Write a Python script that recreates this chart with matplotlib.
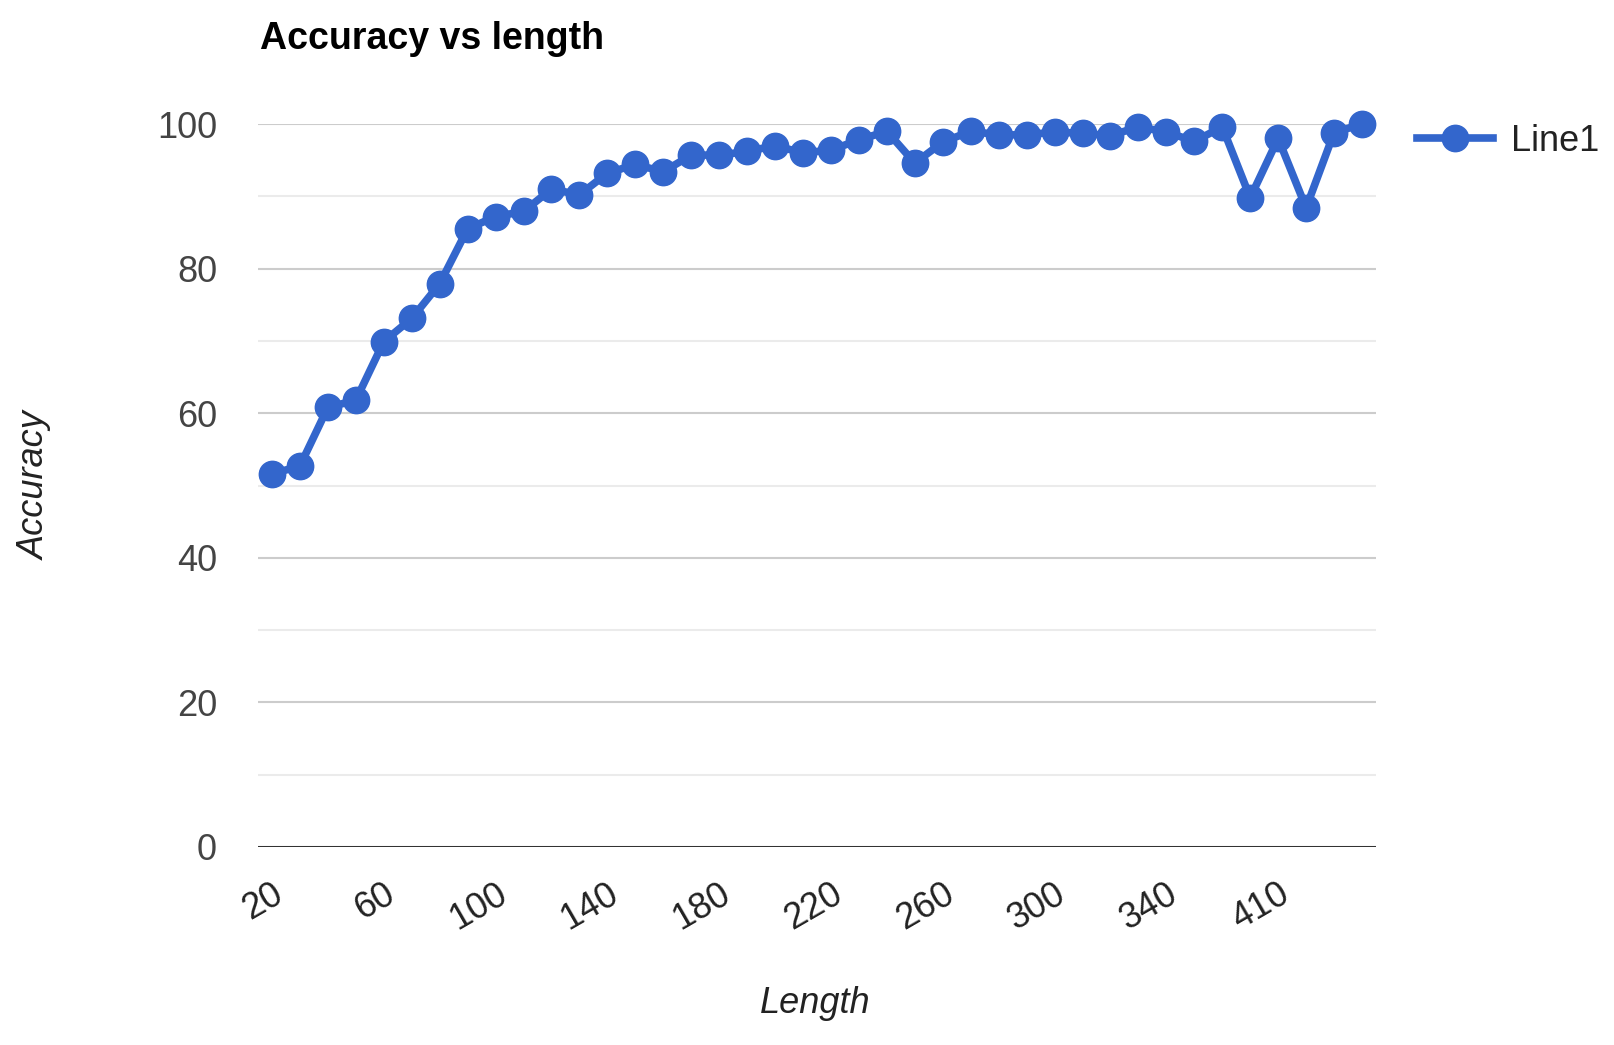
import matplotlib
matplotlib.use("Agg")
import matplotlib.pyplot as plt
import numpy as np

lengths = [20, 30, 40, 50, 60, 70, 80, 90, 100, 110,
           120, 130, 140, 150, 160, 170, 180, 190, 200, 210,
           220, 230, 240, 250, 260, 270, 280, 290, 300, 310,
           320, 330, 340, 350, 370, 390, 410, 430, 460, 500]
accuracy = [51.6, 52.7, 60.8, 61.8, 69.9, 73.1, 77.9, 85.5, 87.2, 87.9,
            91.0, 90.2, 93.2, 94.4, 93.4, 95.7, 95.7, 96.2, 97.0, 96.0,
            96.4, 97.8, 99.0, 94.6, 97.5, 99.0, 98.5, 98.5, 98.9, 98.7,
            98.4, 99.6, 98.9, 97.6, 99.6, 89.8, 98.0, 88.4, 98.8, 100.0]
series_name = "Line1"
y_ticks = [0, 20, 40, 60, 80, 100]

plt.rcParams['font.family'] = ['Liberation Sans', 'DejaVu Sans']

W, H = 1615, 1045
fig = plt.figure(figsize=(W / 100, H / 100), dpi=100)
L, R, T, B = 258, 1376, 124, 847
ax = fig.add_axes([L / W, 1 - B / H, (R - L) / W, (B - T) / H])

x = np.arange(len(lengths))
ax.plot(x, accuracy, color='#3366cc', lw=5.5, marker='o', ms=19,
        label=series_name, clip_on=False, zorder=5)

ax.set_xlim(-0.5, len(lengths) - 0.5)
ax.set_ylim(0, 100)

# gridlines
for v in [10, 30, 50, 70, 90]:
    ax.axhline(v, color='#ebebeb', lw=1.5, zorder=1)
for v in y_ticks[1:]:
    ax.axhline(v, color='#cccccc', lw=1.5, zorder=1)
ax.axhline(0, color='#333333', lw=2.2, zorder=2)

for s in ax.spines.values():
    s.set_visible(False)

ax.set_yticks(y_ticks)
ax.set_yticklabels([str(v) for v in y_ticks])
ax.tick_params(axis='y', length=0, pad=29.5, labelsize=26, labelcolor='#444444')

tick_idx = x[::4]
ax.set_xticks(tick_idx)
ax.set_xticklabels([str(lengths[i]) for i in tick_idx], rotation=30,
                   ha='right', va='top', rotation_mode='anchor')
ax.tick_params(axis='x', length=0, pad=21, labelsize=26, labelcolor='#222222')

ax.set_ylabel('Accuracy', fontsize=26, style='italic', color='#222222')
ax.yaxis.label.set_va('center')
ax.yaxis.set_label_coords((35 - L) / (R - L), 0.5)
ax.set_xlabel('Length', fontsize=26, style='italic', color='#222222')
ax.xaxis.label.set_va('baseline')
ax.xaxis.set_label_coords((815 - L) / (R - L), (B - 1013) / (B - T))

fig.text(260 / W, 1 - 49 / H, 'Accuracy vs length', fontsize=27, fontweight='bold',
         ha='left', va='baseline', color='#000000')

ax.legend(loc='center left', bbox_to_anchor=(1417 / W, 1 - 141.5 / H),
          bbox_transform=fig.transFigure, frameon=False, borderpad=0,
          borderaxespad=0, fontsize=26, handlelength=2.1, handletextpad=0.5,
          labelcolor='#222222')

fig.savefig('out.png', dpi=100, facecolor='white')
